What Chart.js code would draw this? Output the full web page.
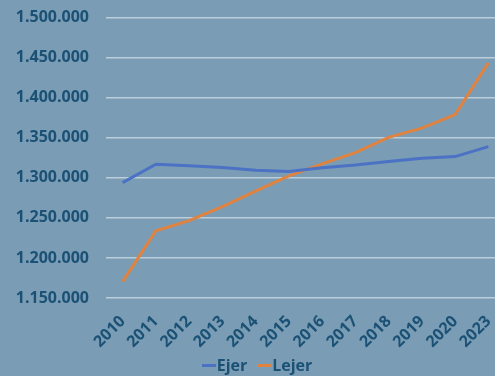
<!DOCTYPE html>
<html>
<head>
<meta charset="utf-8">
<script src="https://cdn.jsdelivr.net/npm/chart.js@4"></script>
<style>
html,body{margin:0;padding:0;overflow:hidden;background:#7a9cb4;width:495px;height:376px;position:relative;}
canvas{display:block;position:absolute;left:0;top:-9px;}
#legend{position:absolute;left:3px;width:508px;top:354px;text-align:center;font:bold 16px "Open Sans",sans-serif;color:#1a5175;white-space:nowrap;}
#legend span.item{display:inline-block;margin:0 5px;}
#legend span.sw{display:inline-block;width:14px;height:3px;vertical-align:middle;margin-right:1px;position:relative;top:-1px;}
</style>
</head>
<body>
<canvas id="c" width="508" height="385"></canvas>
<div id="legend"></div>
<script>
const categories = ['2010','2011','2012','2013','2014','2015','2016','2017','2018','2019','2020','2023'];
const ejer  = [1294000,1317000,1315000,1313000,1309500,1308000,1312500,1316000,1320500,1324500,1326500,1339000];
const lejer = [1170500,1234000,1246500,1264000,1283500,1302500,1317500,1331500,1350500,1362000,1379000,1443500];
const yMin = 1150000, yMax = 1500000, yStep = 50000;

const textColor = '#1a5175';
const font = {family:'"Open Sans", sans-serif', weight:'bold', size:16};

function fmt(v){return Math.round(v).toString().replace(/\B(?=(\d{3})+(?!\d))/g,'.');}

const chart = new Chart(document.getElementById('c'), {
  type:'line',
  data:{
    labels:categories,
    datasets:[
      {label:'Ejer', data:ejer, borderColor:'#4b72c4', backgroundColor:'#4b72c4', borderWidth:3, pointRadius:0, tension:0},
      {label:'Lejer', data:lejer, borderColor:'#e08340', backgroundColor:'#e08340', borderWidth:3, pointRadius:0, tension:0}
    ]
  },
  options:{
    responsive:false,
    animation:false,
    layout:{padding:{left:0,right:1,top:0,bottom:0}},
    plugins:{
      legend:{display:false},
      tooltip:{enabled:false}
    },
    scales:{
      x:{
        offset:true,
        afterFit:(s)=>{s.height=78;},
        grid:{display:false},
        border:{display:false},
        ticks:{color:textColor, font:font, minRotation:45, maxRotation:45, padding:6}
      },
      y:{
        min:yMin, max:yMax,
        afterFit:(s)=>{s.width=106;},
        grid:{color:'rgba(215,228,236,0.7)', lineWidth:1.5, drawTicks:false},
        border:{display:false},
        ticks:{stepSize:yStep, color:textColor, font:font, padding:17, callback:(v)=>fmt(v)}
      }
    }
  }
});

const lg = document.getElementById('legend');
chart.data.datasets.forEach(ds=>{
  const it = document.createElement('span'); it.className='item';
  const sw = document.createElement('span'); sw.className='sw'; sw.style.background=ds.borderColor;
  it.appendChild(sw); it.appendChild(document.createTextNode(ds.label));
  lg.appendChild(it);
});
</script>
</body>
</html>
